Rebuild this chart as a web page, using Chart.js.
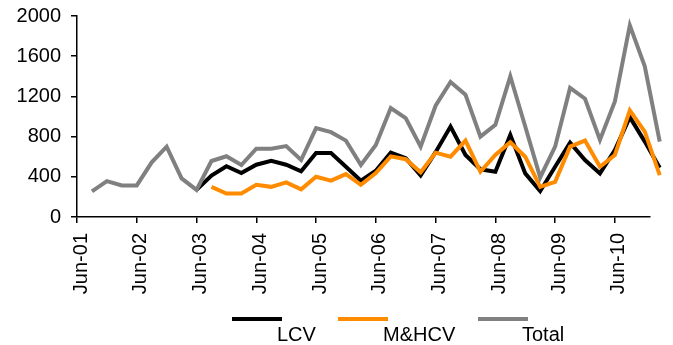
<!DOCTYPE html>
<html>
<head>
<meta charset="utf-8">
<script src="https://cdn.jsdelivr.net/npm/chart.js@4/dist/chart.umd.min.js"></script>
<style>
  html, body { margin: 0; padding: 0; background: #fff; }
  #wrap { width: 673px; height: 345px; position: relative; }
</style>
</head>
<body>
<div id="wrap"><canvas id="chart"></canvas></div>
<script>
// quarterly volumes, index 0 = first quarter after Jun-01
const tickLabels = ['Jun-01', 'Jun-02', 'Jun-03', 'Jun-04', 'Jun-05', 'Jun-06', 'Jun-07', 'Jun-08', 'Jun-09', 'Jun-10'];

const lcv = [null, null, null, null, null, null, null, 270, 412, 505,
  437, 520, 560, 520, 455, 636, 636, 500, 362, 460,
  640, 585, 413, 645, 900, 617, 475, 450, 817, 434,
  257, 500, 740, 567, 434, 667, 994, 750, 490];

const mhcv = [null, null, null, null, null, null, null, null, 300, 234,
  234, 320, 300, 344, 275, 400, 362, 427, 320, 437,
  603, 575, 445, 640, 600, 760, 450, 617, 744, 600,
  300, 350, 700, 760, 500, 617, 1060, 850, 417];

const total = [255, 357, 314, 314, 544, 700, 384, 270, 557, 604,
  517, 680, 680, 705, 567, 884, 844, 760, 517, 717,
  1084, 984, 700, 1107, 1344, 1217, 800, 917, 1400, 900,
  394, 700, 1284, 1177, 767, 1150, 1907, 1500, 750];

const seriesNames = ['LCV', 'M&HCV', 'Total'];
const seriesColors = ['#000000', '#ff8c00', '#808080'];

const tickValues = tickLabels.map((_, k) => 4 * k - 1);
const toPoints = arr => arr.map((v, i) => ({ x: i, y: v }));
const font = { family: 'Liberation Sans, Arial, sans-serif', size: 20 };

// legend sits below the axis, text dropped under the right end of each line
const bottomLegend = {
  id: 'bottomLegend',
  afterDraw(chart) {
    const ctx = chart.ctx;
    const spots = [[232, 277], [338, 383], [478, 522]];
    ctx.save();
    ctx.font = '20px ' + font.family;
    ctx.textBaseline = 'middle';
    ctx.fillStyle = '#000';
    spots.forEach(([lx, tx], i) => {
      ctx.strokeStyle = seriesColors[i];
      ctx.lineWidth = 4;
      ctx.beginPath();
      ctx.moveTo(lx, 319);
      ctx.lineTo(lx + 50, 319);
      ctx.stroke();
      ctx.fillText(seriesNames[i], tx, 335);
    });
    ctx.restore();
  }
};

const series = [lcv, mhcv, total];
const drawOrder = [2, 1, 0];

new Chart(document.getElementById('chart'), {
  type: 'line',
  data: {
    datasets: series.map((arr, i) => ({
      label: seriesNames[i],
      data: toPoints(arr),
      borderColor: seriesColors[i],
      backgroundColor: seriesColors[i],
      borderWidth: 4,
      pointRadius: 0,
      tension: 0,
      clip: false,
      order: drawOrder[i]
    }))
  },
  options: {
    responsive: true,
    maintainAspectRatio: false,
    animation: false,
    layout: { padding: { left: 0, right: 23, top: 16, bottom: 0 } },
    plugins: { legend: { display: false }, tooltip: { enabled: false } },
    scales: {
      x: {
        type: 'linear',
        min: -1,
        max: 37.35,
        afterBuildTicks: s => { s.ticks = tickValues.map(v => ({ value: v })); },
        afterFit: s => { s.height = 128; s.paddingLeft = 0; s.paddingRight = 0; },
        ticks: {
          callback: (v, i) => tickLabels[i],
          autoSkip: false,
          maxRotation: 90,
          minRotation: 90,
          labelOffset: 4,
          padding: 10,
          color: '#000',
          font
        },
        grid: { drawOnChartArea: false, drawTicks: true, tickLength: 6, color: '#000', lineWidth: 1.5 },
        border: { color: '#000', width: 1.5 }
      },
      y: {
        min: 0,
        max: 2000,
        afterFit: s => { s.width = 77; s.paddingTop = 0; s.paddingBottom = 0; },
        ticks: { stepSize: 400, padding: 10, color: '#000', font, callback: v => String(v) },
        grid: { drawOnChartArea: false, drawTicks: true, tickLength: 6, color: '#000', lineWidth: 1.5 },
        border: { color: '#000', width: 1.5 }
      }
    }
  },
  plugins: [bottomLegend]
});
</script>
</body>
</html>
